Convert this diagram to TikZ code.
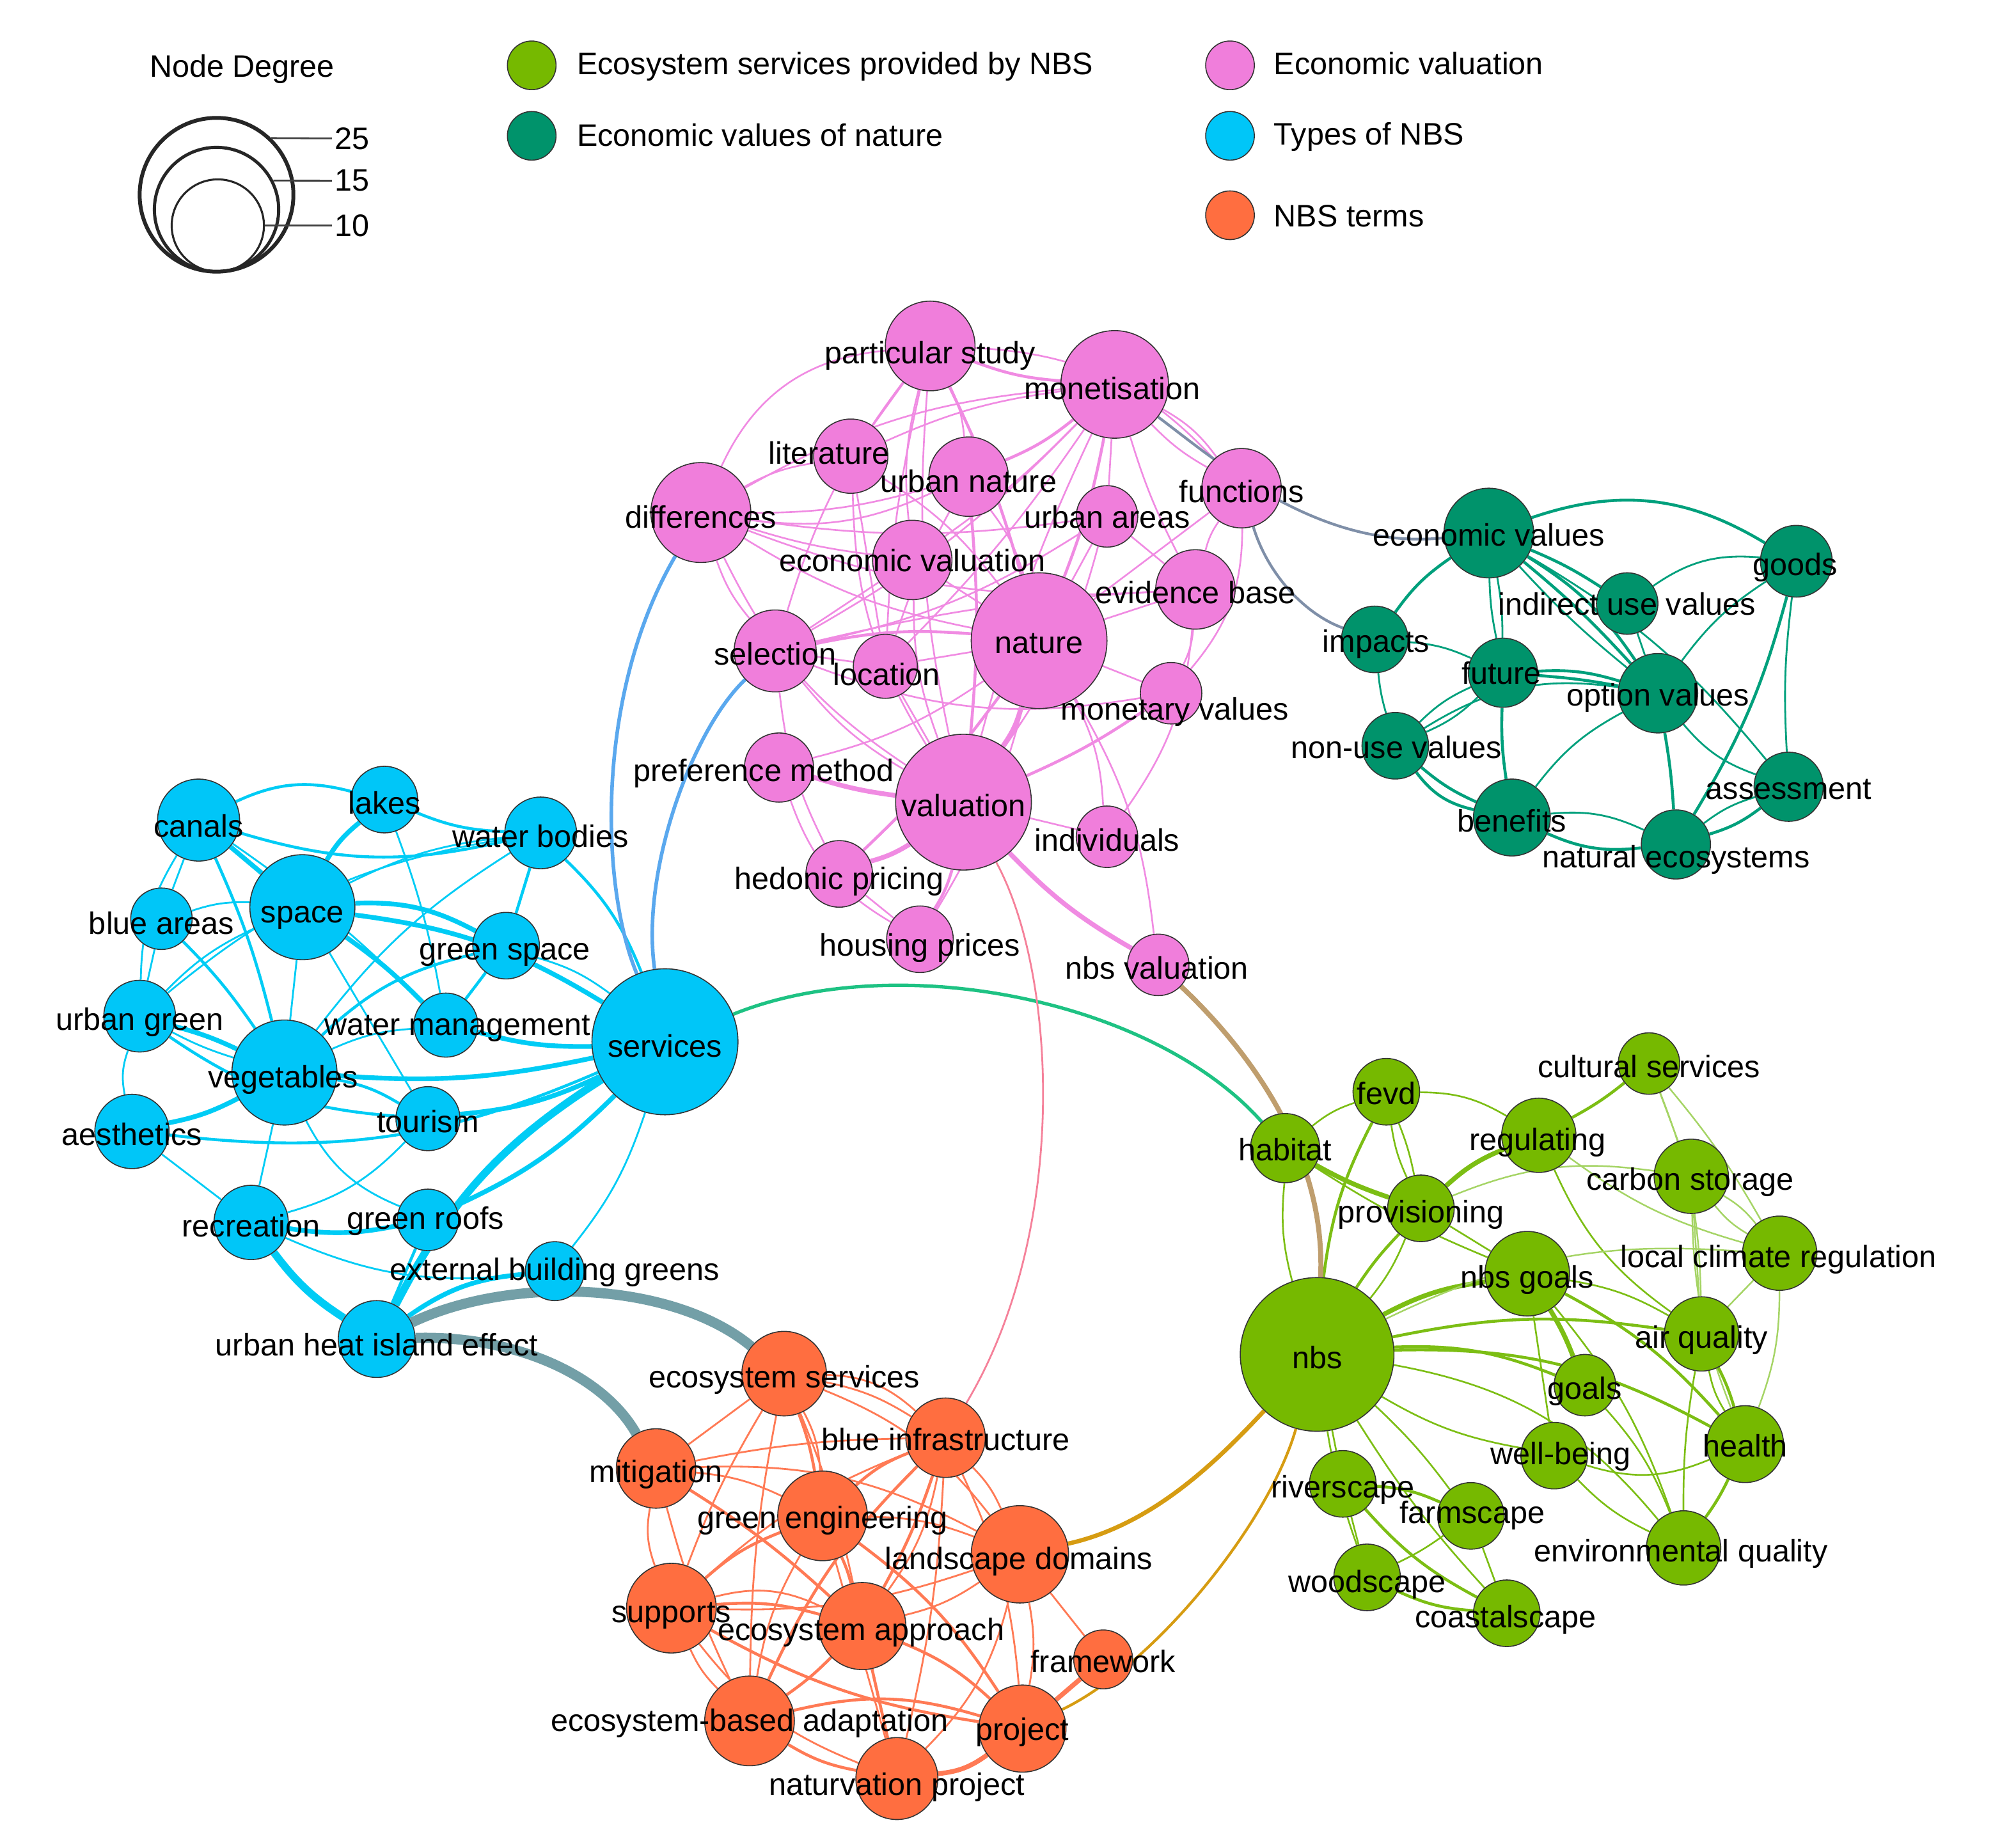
\documentclass[tikz,border=0pt]{standalone}
\usepackage{fontspec}
\setmainfont{Liberation Sans}
\pgfdeclarelayer{bg}
\pgfsetlayers{bg,main}
\definecolor{pkN}{HTML}{F07EDB}
\definecolor{pkE}{HTML}{F08BE2}
\definecolor{dgN}{HTML}{00936B}
\definecolor{dgE}{HTML}{00A07C}
\definecolor{blN}{HTML}{00C6F8}
\definecolor{blE}{HTML}{00CCF5}
\definecolor{orN}{HTML}{FF6E40}
\definecolor{orE}{HTML}{FF7A55}
\definecolor{lgN}{HTML}{76B900}
\definecolor{lgE}{HTML}{7CBE14}
\definecolor{lgL}{HTML}{A5D465}
\definecolor{linkBlue}{HTML}{5AA8EE}
\definecolor{slate}{HTML}{7F8FA8}
\definecolor{tealG}{HTML}{1EC283}
\definecolor{tanC}{HTML}{BF9E6E}
\definecolor{greyT}{HTML}{739FA7}
\definecolor{redP}{HTML}{F5819A}
\definecolor{goldC}{HTML}{D69C12}
\newcommand{\vnode}[5]{\node[vn, fill=#1, minimum size=#5*0.04cm] (#2) at (#3,#4) {};}
\newcommand{\vlab}[4]{\node[lbl] (#1-t) at (#2,#3) {#4};}
\tikzset{
  vn/.style={circle, draw=black!80, line width=0.45pt, inner sep=0pt},
  lbl/.style={anchor=base, inner sep=0pt, text=black, font=\fontsize{13.8}{16}\selectfont},
  pe/.style={draw=pkE, line width=0.75pt},
  de/.style={draw=dgE, line width=0.8pt},
  be/.style={draw=blE, line width=0.8pt},
  oe/.style={draw=orE, line width=0.8pt},
  lge/.style={draw=lgE, line width=0.75pt},
  lgl/.style={draw=lgL, line width=0.7pt},
  w2/.style={line width=1.3pt},
  w3/.style={line width=2.1pt},
  w4/.style={line width=3.4pt}
}
\begin{document}
\begin{tikzpicture}[x=0.02cm, y=-0.02cm]
\useasboundingbox (0,0) rectangle (1568,1442);

% ---------- legend ----------
\node[lbl] (legtitle) at (189,60) {Node Degree};
\node[circle, draw=black!85, line width=1.7pt, inner sep=0pt, minimum size=120*0.02cm] (deg25) at (169,152) {};
\node[circle, draw=black!85, line width=1.4pt, inner sep=0pt, minimum size=97*0.02cm] (deg15) at (169,163.5) {};
\node[circle, draw=black!85, line width=0.9pt, inner sep=0pt, minimum size=72*0.02cm] (deg10) at (170,176) {};
\node[anchor=west, inner sep=1pt, font=\fontsize{13.8}{16}\selectfont] (n25) at (259,108) {25};
\node[anchor=west, inner sep=1pt, font=\fontsize{13.8}{16}\selectfont] (n15) at (259,141) {15};
\node[anchor=west, inner sep=1pt, font=\fontsize{13.8}{16}\selectfont] (n10) at (259,176) {10};
\draw[black!75, line width=0.8pt] (deg25.46) -- (n25.west);
\draw[black!75, line width=0.8pt] (deg15.27) -- (n15.west);
\draw[black!75, line width=0.8pt] (deg10.0) -- (n10.west);

\vnode{lgN}{legA}{415}{51}{19}
\vnode{dgN}{legB}{415}{106}{19}
\vnode{pkN}{legC}{960}{51}{19}
\vnode{blN}{legD}{960}{106}{19}
\vnode{orN}{legE}{960}{168}{19}
\node[lbl, anchor=base west] (legAt) at (450,58) {Ecosystem services provided by NBS};
\node[lbl, anchor=base west] (legBt) at (450,114) {Economic values of nature};
\node[lbl, anchor=base west] (legCt) at (994,58) {Economic valuation};
\node[lbl, anchor=base west] (legDt) at (994,113) {Types of NBS};
\node[lbl, anchor=base west] (legEt) at (994,177) {NBS terms};

% ---------- pink nodes ----------
\vnode{pkN}{ps}{726}{270}{35}
\vnode{pkN}{mon}{870}{300}{42}
\vnode{pkN}{lit}{664}{356}{29}
\vnode{pkN}{un}{756}{372}{31}
\vnode{pkN}{diff}{547}{400}{39}
\vnode{pkN}{fun}{969}{381}{31}
\vnode{pkN}{ua}{864}{403}{24}
\vnode{pkN}{evl}{712}{437}{31}
\vnode{pkN}{eb}{933}{460}{31}
\vnode{pkN}{nat}{811}{500}{53}
\vnode{pkN}{sel}{605}{508}{32}
\vnode{pkN}{loc}{691}{520}{25}
\vnode{pkN}{mv}{914}{541}{24}
\vnode{pkN}{pm}{608}{599}{27}
\vnode{pkN}{val}{752}{626}{53}
\vnode{pkN}{ind}{864}{653}{24}
\vnode{pkN}{hp}{655}{682}{26}
\vnode{pkN}{hpr}{718}{733}{26}
\vnode{pkN}{nbsv}{904}{753}{24}

% ---------- dark green nodes ----------
\vnode{dgN}{evs}{1162}{416}{35}
\vnode{dgN}{goods}{1402}{438}{28}
\vnode{dgN}{iuv}{1270}{471}{24}
\vnode{dgN}{imp}{1073}{499}{26}
\vnode{dgN}{fut}{1173}{525}{27}
\vnode{dgN}{opt}{1294}{541}{31}
\vnode{dgN}{nuv}{1089}{582}{26}
\vnode{dgN}{ass}{1396}{614}{27}
\vnode{dgN}{ben}{1180}{638}{30}
\vnode{dgN}{nec}{1308}{659}{27}

% ---------- blue nodes ----------
\vnode{blN}{can}{155}{640}{32}
\vnode{blN}{lak}{300}{624}{26}
\vnode{blN}{wb}{422}{650}{28}
\vnode{blN}{ba}{126}{717}{24}
\vnode{blN}{spa}{236}{708}{41}
\vnode{blN}{gs}{395}{738}{26}
\vnode{blN}{ug}{109}{793}{28}
\vnode{blN}{wm}{348}{800}{25}
\vnode{blN}{ser}{519}{813}{57}
\vnode{blN}{veg}{222}{837}{41}
\vnode{blN}{aes}{103}{883}{29}
\vnode{blN}{tou}{334}{873}{25}
\vnode{blN}{rec}{196}{954}{29}
\vnode{blN}{gr}{334}{952}{24}
\vnode{blN}{ebg}{433}{992}{23}
\vnode{blN}{uhi}{294}{1045}{30}

% ---------- light green nodes ----------
\vnode{lgN}{cs}{1287}{830}{24}
\vnode{lgN}{fevd}{1082}{852}{26}
\vnode{lgN}{reg}{1201}{886}{29}
\vnode{lgN}{hab}{1003}{896}{27}
\vnode{lgN}{cst}{1320}{918}{29}
\vnode{lgN}{prov}{1109}{943}{26}
\vnode{lgN}{lcr}{1389}{978}{29}
\vnode{lgN}{ng}{1192}{994}{33}
\vnode{lgN}{nbs}{1028}{1057}{60}
\vnode{lgN}{aq}{1328}{1041}{29}
\vnode{lgN}{goals}{1237}{1081}{24}
\vnode{lgN}{wbe}{1213}{1136}{26}
\vnode{lgN}{hea}{1362}{1127}{30}
\vnode{lgN}{riv}{1048}{1158}{26}
\vnode{lgN}{farm}{1148}{1183}{26}
\vnode{lgN}{eq}{1314}{1208}{29}
\vnode{lgN}{wood}{1067}{1231}{26}
\vnode{lgN}{coast}{1176}{1259}{26}

% ---------- orange nodes ----------
\vnode{orN}{es}{612}{1072}{33}
\vnode{orN}{bi}{738}{1122}{31}
\vnode{orN}{mit}{512}{1146}{31}
\vnode{orN}{ge}{642}{1183}{35}
\vnode{orN}{ld}{796}{1213}{38}
\vnode{orN}{sup}{524}{1255}{35}
\vnode{orN}{ea}{673}{1269}{34}
\vnode{orN}{fw}{861}{1295}{23}
\vnode{orN}{eba}{585}{1343}{35}
\vnode{orN}{prj}{798}{1349}{34}
\vnode{orN}{np}{700}{1388}{32}

\begin{pgfonlayer}{bg}
% ---------- pink edges ----------
\draw[pe] (ps) to[bend right=30] (diff);
\draw[pe,w2] (ps) to[bend right=8] (mon);
\draw[pe] (ps) to[bend left=22] (fun);
\draw[pe] (ps) -- (lit);
\draw[pe] (ps) to[bend right=10] (sel);
\draw[pe] (ps) to[bend left=10] (un);
\draw[pe] (ps) to[bend right=10] (evl);
\draw[pe,w2] (ps) to[bend left=5] (nat);
\draw[pe] (ps) to[bend right=8] (val);
\draw[pe] (ps) to[bend right=5] (loc);
\draw[pe] (mon) to[bend right=8] (lit);
\draw[pe] (mon) to[bend right=12] (diff);
\draw[pe,w2] (mon) to[bend left=8] (un);
\draw[pe] (mon) to[bend left=5] (evl);
\draw[pe] (mon) to[bend left=8] (sel);
\draw[pe,w2] (mon) to[bend left=5] (nat);
\draw[pe] (mon) to[bend right=5] (val);
\draw[pe] (mon) -- (ua);
\draw[pe] (mon) to[bend right=5] (eb);
\draw[pe] (mon) to[bend left=12] (fun);
\draw[pe] (mon) to[bend right=8] (fun);
\draw[pe] (mon) to[bend left=5] (loc);
\draw[pe] (lit) to[bend right=10] (diff);
\draw[pe] (lit) to[bend left=10] (nat);
\draw[pe] (lit) to[bend right=15] (val);
\draw[pe] (lit) -- (loc);
\draw[pe] (un) to[bend left=8] (diff);
\draw[pe] (un) to[bend left=16] (diff);
\draw[pe] (un) to[bend left=10] (nat);
\draw[pe,w2] (un) to[bend left=5] (val);
\draw[pe] (un) to[bend right=5] (loc);
\draw[pe] (diff) to[bend right=8] (ua);
\draw[pe] (diff) to[bend right=5] (evl);
\draw[pe] (diff) to[bend right=10] (nat);
\draw[pe] (diff) to[bend right=12] (eb);
\draw[pe] (diff) to[bend right=10] (sel);
\draw[pe] (diff) to[bend right=15] (val);
\draw[pe] (fun) to[bend right=10] (eb);
\draw[pe] (fun) to[bend left=20] (mv);
\draw[pe] (fun) -- (nat);
\draw[pe] (ua) -- (nat);
\draw[pe] (ua) to[bend left=10] (val);
\draw[pe] (ua) to[bend left=10] (sel);
\draw[pe] (ua) -- (eb);
\draw[pe] (evl) -- (nat);
\draw[pe] (evl) to[bend right=10] (val);
\draw[pe] (evl) -- (sel);
\draw[pe] (eb) -- (nat);
\draw[pe] (eb) to[bend left=10] (mv);
\draw[pe] (eb) to[bend right=5] (sel);
\draw[pe] (eb) to[bend left=15] (ind);
\draw[pe,w3] (nat) to[bend left=10] (val);
\draw[pe,w2] (nat) to[bend right=8] (sel);
\draw[pe] (nat) -- (loc);
\draw[pe] (nat) to[bend left=10] (pm);
\draw[pe,w2] (nat) to[bend left=5] (hp);
\draw[pe] (nat) to[bend left=8] (hpr);
\draw[pe] (nat) -- (mv);
\draw[pe] (nat) to[bend left=12] (ind);
\draw[pe] (nat) to[bend left=12] (nbsv);
\draw[pe] (sel) to[bend right=10] (val);
\draw[pe] (sel) to[bend right=10] (hp);
\draw[pe] (sel) -- (loc);
\draw[pe] (loc) -- (val);
\draw[pe,w2] (mv) to[bend left=5] (val);
\draw[pe] (mv) to[bend left=15] (sel);
\draw[pe,w3] (pm) to[bend right=5] (val);
\draw[pe] (pm) to[bend right=20] (hpr);
\draw[pe,w3] (val) to[bend left=8] (hp);
\draw[pe,w2] (val) to[bend left=8] (hpr);
\draw[pe,w3] (val) to[bend right=8] (nbsv);
\draw[pe] (val) -- (ind);
\draw[pe] (hp) -- (hpr);

% ---------- dark green edges ----------
\draw[de,w2] (evs) to[bend left=25] (goods);
\draw[de,w2] (evs) to[bend left=5] (iuv);
\draw[de,w2] (evs) to[bend left=4] (opt);
\draw[de,w2] (evs) to[bend left=12] (opt);
\draw[de] (evs) to[bend right=4] (opt);
\draw[de,w2] (evs) to[bend right=10] (imp);
\draw[de] (evs) to[bend right=5] (fut);
\draw[de] (evs) to[bend left=5] (fut);
\draw[de] (evs) to[bend left=10] (ass);
\draw[de] (iuv) to[bend left=20] (goods);
\draw[de] (opt) to[bend left=10] (goods);
\draw[de,w2] (goods) to[bend left=8] (nec);
\draw[de] (goods) to[bend right=5] (ass);
\draw[de] (imp) to[bend left=10] (fut);
\draw[de] (imp) to[bend right=5] (nuv);
\draw[de,w2] (fut) to[bend left=10] (opt);
\draw[de,w2] (fut) to[bend left=3] (opt);
\draw[de] (fut) to[bend right=10] (nuv);
\draw[de] (fut) to[bend left=10] (nuv);
\draw[de,w2] (fut) to[bend right=5] (ben);
\draw[de,w2] (nuv) to[bend right=8] (ben);
\draw[de,w2] (nuv) to[bend right=20] (ben);
\draw[de] (nuv) to[bend left=20] (opt);
\draw[de] (ben) to[bend left=12] (opt);
\draw[de,w2] (opt) to[bend left=3] (nec);
\draw[de] (opt) to[bend right=15] (ass);
\draw[de,w2] (ben) to[bend right=15] (nec);
\draw[de] (ben) to[bend left=15] (nec);
\draw[de,w2] (nec) to[bend right=10] (ass);
\draw[de] (nec) to[bend left=10] (ass);
\draw[de] (iuv) -- (opt);

% ---------- blue edges ----------
\draw[be,w2] (can) to[bend left=20] (lak);
\draw[be,w3] (can) -- (spa);
\draw[be,w2] (can) to[bend right=15] (wb);
\draw[be] (can) -- (ba);
\draw[be] (can) to[bend right=15] (ug);
\draw[be,w2] (can) to[bend left=5] (veg);
\draw[be] (can) to[bend left=5] (wm);
\draw[be,w3] (lak) to[bend right=10] (spa);
\draw[be,w2] (lak) to[bend right=10] (wb);
\draw[be] (lak) to[bend left=5] (wm);
\draw[be] (wb) to[bend right=10] (spa);
\draw[be,w2] (wb) -- (gs);
\draw[be,w2] (wb) to[bend left=12] (ser);
\draw[be] (wb) to[bend right=10] (veg);
\draw[be] (wb) to[bend right=15] (ug);
\draw[be] (ba) to[bend left=10] (spa);
\draw[be,w2] (ba) to[bend left=5] (veg);
\draw[be] (ba) -- (ug);
\draw[be,w3] (spa) to[bend left=15] (gs);
\draw[be,w3] (spa) to[bend left=5] (wm);
\draw[be,w3] (spa) to[bend left=12] (ser);
\draw[be] (spa) -- (veg);
\draw[be] (spa) to[bend right=10] (ug);
\draw[be] (spa) -- (tou);
\draw[be] (gs) to[bend left=10] (ser);
\draw[be,w2] (gs) to[bend right=15] (veg);
\draw[be,w2] (gs) -- (wm);
\draw[be,w3] (ug) to[bend left=5] (veg);
\draw[be] (ug) to[bend right=5] (veg);
\draw[be] (ug) to[bend right=15] (aes);
\draw[be,w2] (ug) to[bend right=15] (tou);
\draw[be,w3] (veg) to[bend left=8] (aes);
\draw[be,w2] (veg) to[bend left=10] (tou);
\draw[be,w3] (veg) to[bend right=8] (ser);
\draw[be] (veg) to[bend left=10] (wm);
\draw[be] (veg) -- (rec);
\draw[be] (veg) to[bend right=20] (gr);
\draw[be,w2] (aes) to[bend right=15] (ser);
\draw[be] (aes) -- (rec);
\draw[be,w3] (tou) to[bend right=10] (ser);
\draw[be] (tou) to[bend left=15] (rec);
\draw[be,w3] (rec) to[bend right=10] (gr);
\draw[be,w4] (rec) to[bend right=10] (uhi);
\draw[be] (rec) to[bend right=15] (ebg);
\draw[be,w3] (gr) to[bend right=10] (ser);
\draw[be,w2] (gr) -- (uhi);
\draw[be,w4] (uhi) to[bend left=15] (ser);
\draw[be] (ser) to[bend left=10] (ebg);
\draw[be,w3] (uhi) to[bend left=15] (ebg);
\draw[be,w3] (wm) to[bend right=8] (ser);

% ---------- light green edges ----------
\draw[lge] (hab) to[bend left=10] (fevd);
\draw[lge,w3] (hab) to[bend right=5] (prov);
\draw[lge] (hab) to[bend right=10] (nbs);
\draw[lge] (hab) to[bend right=5] (ng);
\draw[lge] (fevd) to[bend left=5] (prov);
\draw[lge] (fevd) to[bend right=8] (prov);
\draw[lge,w2] (fevd) to[bend right=10] (nbs);
\draw[lge] (fevd) to[bend left=15] (reg);
\draw[lge,w3] (reg) to[bend right=10] (prov);
\draw[lge,w2] (reg) to[bend right=5] (cs);
\draw[lgl] (reg) to[bend right=10] (lcr);
\draw[lge] (reg) to[bend right=15] (aq);
\draw[lgl] (cs) -- (cst);
\draw[lgl] (cs) to[bend left=10] (aq);
\draw[lgl] (cs) to[bend left=5] (lcr);
\draw[lge,w2] (prov) to[bend right=5] (nbs);
\draw[lge] (prov) to[bend left=8] (nbs);
\draw[lge] (prov) -- (ng);
\draw[lgl] (prov) to[bend left=15] (cst);
\draw[lge,w3] (nbs) to[bend left=10] (ng);
\draw[lgl] (nbs) to[bend left=15] (lcr);
\draw[lge,w2] (nbs) to[bend left=10] (aq);
\draw[lge,w2] (nbs) to[bend left=12] (goals);
\draw[lge,w2] (nbs) to[bend left=15] (hea);
\draw[lge] (nbs) to[bend left=20] (eq);
\draw[lge] (nbs) to[bend right=10] (wbe);
\draw[lge] (nbs) -- (riv);
\draw[lge] (nbs) to[bend left=5] (farm);
\draw[lge] (nbs) to[bend right=5] (wood);
\draw[lge] (nbs) to[bend right=5] (coast);
\draw[lge,w3] (ng) to[bend left=5] (goals);
\draw[lge] (ng) to[bend left=10] (aq);
\draw[lge,w2] (ng) to[bend left=10] (hea);
\draw[lge] (ng) to[bend left=10] (eq);
\draw[lge] (ng) -- (wbe);
\draw[lgl] (cst) to[bend left=10] (lcr);
\draw[lgl] (cst) to[bend right=10] (lcr);
\draw[lgl] (cst) -- (aq);
\draw[lgl] (cst) to[bend right=10] (hea);
\draw[lgl] (lcr) -- (aq);
\draw[lgl] (lcr) to[bend left=10] (hea);
\draw[lge,w2] (aq) to[bend left=5] (hea);
\draw[lge] (aq) to[bend right=10] (hea);
\draw[lge] (aq) to[bend right=5] (eq);
\draw[lge] (goals) to[bend left=10] (eq);
\draw[lge] (wbe) to[bend right=10] (eq);
\draw[lge] (wbe) to[bend right=20] (hea);
\draw[lge,w2] (hea) to[bend left=5] (eq);
\draw[lge,w2] (riv) to[bend left=10] (farm);
\draw[lge] (riv) -- (wood);
\draw[lge,w2] (riv) to[bend right=10] (coast);
\draw[lge] (farm) to[bend left=5] (wood);
\draw[lge] (farm) -- (coast);
\draw[lge,w2] (wood) to[bend right=10] (coast);

% ---------- orange edges ----------
\draw[oe] (es) -- (mit);
\draw[oe] (es) to[bend left=10] (bi);
\draw[oe] (es) to[bend left=20] (bi);
\draw[oe,w2] (es) to[bend left=5] (ge);
\draw[oe] (es) to[bend left=12] (ge);
\draw[oe] (es) to[bend left=5] (ea);
\draw[oe] (es) to[bend right=5] (eba);
\draw[oe] (es) to[bend left=15] (ld);
\draw[oe] (es) to[bend right=5] (sup);
\draw[oe] (mit) to[bend left=10] (ge);
\draw[oe] (mit) to[bend left=15] (ld);
\draw[oe] (mit) to[bend left=5] (bi);
\draw[oe] (mit) to[bend right=15] (sup);
\draw[oe,w2] (mit) to[bend left=5] (ea);
\draw[oe] (mit) to[bend right=5] (eba);
\draw[oe,w2] (bi) to[bend right=10] (ge);
\draw[oe] (bi) to[bend right=10] (sup);
\draw[oe,w2] (bi) to[bend left=5] (ea);
\draw[oe] (bi) to[bend left=12] (ea);
\draw[oe] (bi) to[bend left=10] (ld);
\draw[oe,w2] (bi) to[bend right=10] (eba);
\draw[oe] (bi) to[bend left=5] (np);
\draw[oe] (bi) to[bend left=10] (prj);
\draw[oe,w2] (ge) to[bend right=10] (sup);
\draw[oe] (ge) to[bend left=10] (ld);
\draw[oe,w2] (ge) to[bend left=5] (ea);
\draw[oe] (ge) to[bend right=10] (eba);
\draw[oe,w2] (ge) to[bend left=10] (prj);
\draw[oe] (ge) -- (np);
\draw[oe] (ld) to[bend left=10] (ea);
\draw[oe] (ld) to[bend left=10] (sup);
\draw[oe] (ld) -- (fw);
\draw[oe] (ld) to[bend left=10] (prj);
\draw[oe] (ld) to[bend left=15] (np);
\draw[oe,w2] (sup) to[bend left=10] (ea);
\draw[oe] (sup) to[bend left=20] (ea);
\draw[oe] (sup) to[bend right=10] (eba);
\draw[oe,w2] (sup) to[bend right=10] (prj);
\draw[oe] (sup) to[bend right=15] (np);
\draw[oe,w2] (ea) to[bend left=5] (eba);
\draw[oe,w2] (ea) to[bend left=10] (prj);
\draw[oe,w2] (ea) -- (np);
\draw[oe,w2] (eba) to[bend left=15] (prj);
\draw[oe,w2] (eba) to[bend right=10] (np);
\draw[oe,w3] (prj) to[bend left=15] (np);
\draw[oe,w3] (prj) -- (fw);

% ---------- links between clusters ----------
\draw[draw=linkBlue, line width=1.6pt] (diff) .. controls (465,540) and (468,690) .. (ser);
\draw[draw=linkBlue, line width=1.6pt] (sel) .. controls (540,570) and (500,680) .. (ser);
\draw[draw=slate, line width=1.2pt] (mon) .. controls (950,360) and (1030,430) .. (evs);
\draw[draw=slate, line width=1.2pt] (fun) .. controls (990,450) and (1020,480) .. (imp);
\draw[draw=tealG, line width=1.5pt] (ser) .. controls (700,740) and (900,780) .. (hab);
\draw[draw=tanC, line width=2.2pt] (nbsv) .. controls (975,820) and (1035,900) .. (nbs);
\draw[draw=greyT, line width=4.5pt] (uhi) .. controls (400,995) and (525,1000) .. (es);
\draw[draw=greyT, line width=4.5pt] (uhi) .. controls (400,1042) and (470,1072) .. (mit);
\draw[draw=redP, line width=0.8pt] (val) .. controls (825,760) and (835,960) .. (bi);
\draw[draw=goldC, line width=1.9pt] (ld) .. controls (900,1190) and (950,1140) .. (nbs);
\draw[draw=goldC, line width=1.2pt] (prj) .. controls (900,1300) and (990,1190) .. (nbs);
\end{pgfonlayer}

% ---------- labels ----------
\vlab{ps}{726}{284}{particular study}
\vlab{mon}{868}{312}{monetisation}
\vlab{lit}{647}{362}{literature}
\vlab{un}{756}{384}{urban nature}
\vlab{diff}{547}{412}{differences}
\vlab{fun}{969}{392}{functions}
\vlab{ua}{864}{412}{urban areas}
\vlab{evl}{712}{446}{economic valuation}
\vlab{eb}{933}{471}{evidence base}
\vlab{nat}{811}{510}{nature}
\vlab{sel}{605}{519}{selection}
\vlab{loc}{692}{535}{location}
\vlab{mv}{917}{562}{monetary values}
\vlab{pm}{596}{610}{preference method}
\vlab{val}{752}{637}{valuation}
\vlab{ind}{864}{664}{individuals}
\vlab{hp}{655}{694}{hedonic pricing}
\vlab{hpr}{718}{746}{housing prices}
\vlab{nbsv}{903}{764}{nbs valuation}

\vlab{evs}{1162}{426}{economic values}
\vlab{goods}{1401}{449}{goods}
\vlab{iuv}{1270}{480}{indirect use values}
\vlab{imp}{1074}{509}{impacts}
\vlab{fut}{1172}{534}{future}
\vlab{opt}{1294}{551}{option values}
\vlab{nuv}{1090}{592}{non-use values}
\vlab{ass}{1396}{624}{assessment}
\vlab{ben}{1180}{649}{benefits}
\vlab{nec}{1308}{677}{natural ecosystems}

\vlab{can}{155}{653}{canals}
\vlab{lak}{300}{635}{lakes}
\vlab{wb}{422}{661}{water bodies}
\vlab{ba}{126}{729}{blue areas}
\vlab{spa}{236}{720}{space}
\vlab{gs}{394}{749}{green space}
\vlab{ug}{109}{804}{urban green}
\vlab{wm}{357}{808}{water management}
\vlab{ser}{519}{825}{services}
\vlab{veg}{221}{849}{vegetables}
\vlab{aes}{103}{894}{aesthetics}
\vlab{tou}{334}{884}{tourism}
\vlab{rec}{196}{965}{recreation}
\vlab{gr}{332}{959}{green roofs}
\vlab{ebg}{433}{999}{external building greens}
\vlab{uhi}{294}{1058}{urban heat island effect}

\vlab{cs}{1287}{841}{cultural services}
\vlab{fevd}{1082}{862}{fevd}
\vlab{reg}{1200}{898}{regulating}
\vlab{hab}{1003}{906}{habitat}
\vlab{cst}{1319}{929}{carbon storage}
\vlab{prov}{1109}{954}{provisioning}
\vlab{lcr}{1388}{989}{local climate regulation}
\vlab{ng}{1192}{1005}{nbs goals}
\vlab{nbs}{1028}{1068}{nbs}
\vlab{aq}{1328}{1052}{air quality}
\vlab{goals}{1237}{1092}{goals}
\vlab{wbe}{1218}{1143}{well-being}
\vlab{hea}{1362}{1137}{health}
\vlab{riv}{1048}{1169}{riverscape}
\vlab{farm}{1149}{1189}{farmscape}
\vlab{eq}{1312}{1219}{environmental quality}
\vlab{wood}{1067}{1243}{woodscape}
\vlab{coast}{1175}{1270}{coastalscape}

\vlab{es}{612}{1083}{ecosystem services}
\vlab{bi}{738}{1132}{blue infrastructure}
\vlab{mit}{512}{1157}{mitigation}
\vlab{ge}{642}{1193}{green engineering}
\vlab{ld}{795}{1225}{landscape domains}
\vlab{sup}{524}{1266}{supports}
\vlab{ea}{672}{1280}{ecosystem approach}
\vlab{fw}{861}{1305}{framework}
\vlab{eba}{585}{1351}{ecosystem-based adaptation}
\vlab{prj}{798}{1358}{project}
\vlab{np}{700}{1401}{naturvation project}
\end{tikzpicture}
\end{document}
